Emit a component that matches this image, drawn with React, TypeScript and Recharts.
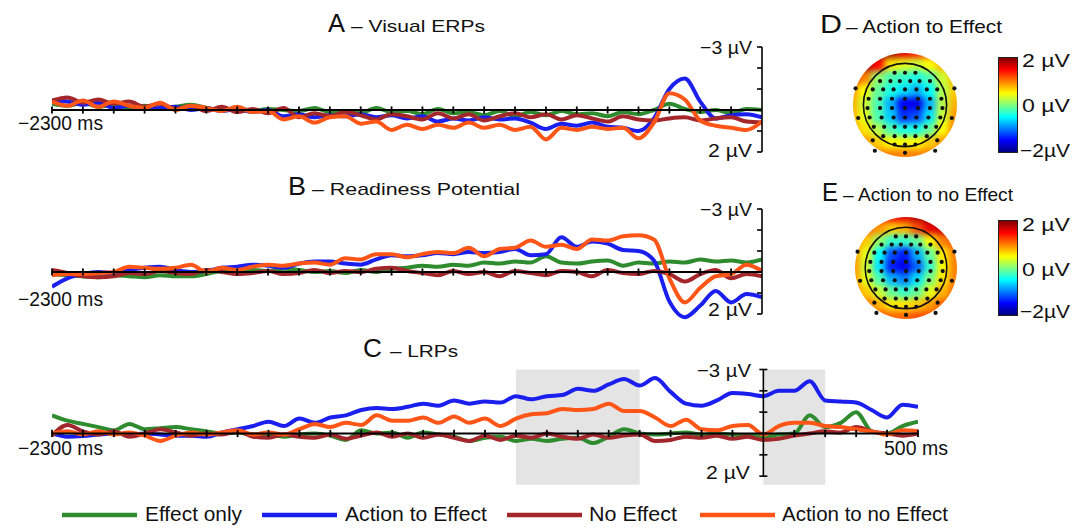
import React from 'react';
import {
  LineChart,
  Line,
  XAxis,
  YAxis,
  ReferenceLine,
  ReferenceArea,
  ReferenceDot,
  ScatterChart,
  Scatter,
} from 'recharts';

// time points (ms), 50 ms steps
const timesAB = [
  -2300, -2250, -2200, -2150, -2100, -2050, -2000, -1950, -1900, -1850, -1800, -1750, -1700, -1650, -1600, -1550,
  -1500, -1450, -1400, -1350, -1300, -1250, -1200, -1150, -1100, -1050, -1000, -950, -900, -850, -800, -750, -700,
  -650, -600, -550, -500, -450, -400, -350, -300, -250, -200, -150, -100, -50, 0,
];
const timesC = [
  -2300, -2250, -2200, -2150, -2100, -2050, -2000, -1950, -1900, -1850, -1800, -1750, -1700, -1650, -1600, -1550,
  -1500, -1450, -1400, -1350, -1300, -1250, -1200, -1150, -1100, -1050, -1000, -950, -900, -850, -800, -750, -700,
  -650, -600, -550, -500, -450, -400, -350, -300, -250, -200, -150, -100, -50, 0, 50, 100, 150, 200, 250, 300, 350,
  400, 450, 500,
];

const ticksAB = [
  -2300, -2200, -2100, -2000, -1900, -1800, -1700, -1600, -1500, -1400, -1300, -1200, -1100, -1000, -900, -800, -700,
  -600, -500, -400, -300, -200, -100,
];
const ticksC = [
  -2300, -2200, -2100, -2000, -1900, -1800, -1700, -1600, -1500, -1400, -1300, -1200, -1100, -1000, -900, -800, -700,
  -600, -500, -400, -300, -200, -100, 100, 200, 300, 400, 500,
];
const voltTicks = [-3, -2, -1, 0, 1, 2];
const shadedC: [number, number][] = [[-800, -400], [0, 200]];

// A - Visual ERPs (µV, negative up)
const effectOnlyA = [
  -0.3, -0.2, -0.35, -0.15, -0.25, -0.1, -0.2, -0.05, -0.15, -0.25, -0.1, 0.0, -0.1, 0.05, -0.05, 0.0, 0.05, -0.1,
  0.1, 0.05, 0.15, -0.1, 0.1, 0.05, 0.2, -0.05, 0.15, 0.1, 0.25, 0.05, 0.3, 0.1, 0.25, 0.05, 0.2, 0.15, 0.3, 0.1, 0.2,
  0.0, -0.3, -0.05, 0.1, 0.0, 0.15, -0.05, 0.0,
];
const actionEffectA = [
  -0.45, -0.4, -0.25, -0.35, -0.1, -0.2, -0.05, -0.1, -0.15, 0.0, -0.1, 0.05, -0.05, 0.1, 0.0, 0.3, 0.2, 0.35, 0.25,
  0.3, 0.2, 0.35, 0.25, 0.4, 0.3, 0.55, 0.4, 0.5, 0.35, 0.45, 0.4, 0.6, 0.9, 0.65, 0.75, 0.6, 0.8, 0.85, 1.0, 0.4,
  -1.0, -1.5, -0.4, 0.4, 0.25, 0.2, 0.35,
];
const noEffectA = [
  -0.45, -0.6, -0.35, -0.5, -0.3, -0.4, -0.15, -0.3, -0.05, -0.2, 0.05, -0.15, 0.1, -0.05, 0.15, -0.1, 0.35, 0.15, 0.3,
  0.1, 0.25, 0.45, 0.2, 0.3, 0.45, 0.15, 0.4, 0.2, 0.5, 0.3, 0.15, 0.35, 0.2, 0.45, 0.25, 0.4, 0.55, 0.3, 0.45, 0.5,
  0.4, 0.35, 0.5, 0.4, 0.35, 0.55, 0.6,
];
const actionNoEffectA = [
  -0.4, -0.2, -0.45, -0.15, -0.4, -0.2, -0.1, -0.35, 0.0, -0.2, -0.1, 0.05, -0.15, 0.1, 0.05, 0.45, 0.3, 0.6, 0.35,
  0.3, 0.65, 0.55, 0.95, 0.7, 0.9, 0.7, 0.85, 0.6, 0.85, 0.7, 0.95, 0.8, 1.4, 0.85, 0.95, 0.8, 0.9, 0.85, 1.35, 0.6,
  -0.8, -0.5, 0.5, 0.75, 0.85, 0.95, 0.55,
];

// B - Readiness Potential
const effectOnlyB = [
  0.1, 0.15, 0.2, 0.25, 0.15, 0.2, 0.25, 0.15, 0.2, 0.2, 0.1, -0.05, 0.05, -0.1, -0.05, -0.15, -0.1, 0.0, -0.05, 0.05,
  -0.1, 0.0, -0.15, -0.2, -0.3, -0.25, -0.35, -0.3, -0.45, -0.4, -0.5, -0.45, -0.75, -0.45, -0.4, -0.5, -0.55, -0.3,
  -0.45, -0.4, -0.5, -0.45, -0.6, -0.5, -0.55, -0.45, -0.6,
];
const actionEffectB = [
  0.7, 0.3, 0.1, 0.0, 0.05, -0.1, -0.2, -0.25, -0.1, 0.0, -0.05, -0.2, -0.25, -0.35, -0.3, -0.2, -0.4, -0.5, -0.5,
  -0.4, -0.35, -0.6, -0.8, -0.75, -0.8, -0.9, -0.85, -0.95, -0.9, -0.95, -1.1, -0.8, -0.85, -1.65, -1.2, -1.45, -1.35,
  -1.05, -1.0, -0.55, 1.4, 2.15, 1.6, 0.9, 1.45, 1.05, 1.2,
];
const noEffectB = [
  -0.1, 0.05, 0.2, 0.25, 0.2, 0.05, 0.1, -0.05, 0.05, 0.1, -0.1, 0.0, 0.1, 0.05, -0.05, 0.1, 0.05, -0.1, 0.05, -0.05,
  0.0, -0.15, -0.2, -0.05, 0.05, 0.15, -0.05, 0.1, 0.0, 0.2, -0.05, 0.05, 0.15, -0.05, 0.0, 0.2, -0.1, 0.05, 0.1,
  -0.05, 0.1, 0.45, 0.1, -0.1, 0.3, 0.1, 0.2,
];
const actionNoEffectB = [
  0.15, 0.1, 0.1, 0.05, 0.0, -0.25, -0.2, -0.15, -0.2, -0.35, 0.0, -0.2, -0.1, -0.25, -0.35, -0.3, -0.4, -0.45, -0.35,
  -0.65, -0.6, -0.85, -0.85, -0.7, -0.85, -0.95, -0.9, -1.15, -0.75, -1.1, -1.15, -1.5, -1.2, -1.3, -1.1, -1.55, -1.5,
  -1.7, -1.75, -1.55, 0.3, 1.45, 0.75, 0.2, 0.1, -0.35, -0.05,
];

// C - LRPs
const effectOnlyC = [
  -0.85, -0.6, -0.45, -0.3, -0.15, -0.45, -0.2, -0.25, -0.3, -0.2, -0.1, 0.0, -0.05, 0.05, 0.05, 0.15, 0.05, 0.0, 0.1,
  0.3, -0.15, 0.0, -0.05, 0.2, -0.05, 0.05, 0.15, 0.35, 0.2, 0.15, 0.35, 0.25, 0.35, 0.25, 0.2, 0.45, 0.15, -0.2, 0.0,
  0.05, 0.0, -0.05, 0.05, 0.0, 0.05, 0.1, 0.15, 0.05, 0.0, -0.85, -0.3, -0.5, -1.0, -0.1, 0.0, -0.35, -0.55,
];
const actionEffectC = [
  0.0, 0.15, 0.12, 0.05, 0.0, 0.05, 0.0, 0.05, 0.1, 0.1, 0.15, -0.05, -0.2, -0.35, -0.55, -0.35, -0.7, -0.5, -0.75,
  -0.85, -1.1, -1.2, -1.15, -1.25, -1.4, -1.3, -1.55, -1.4, -1.5, -1.45, -1.75, -1.6, -1.75, -1.8, -2.1, -2.0, -2.3,
  -2.55, -2.25, -2.6, -1.95, -1.4, -1.3, -1.55, -1.9, -1.85, -1.75, -2.0, -2.0, -2.45, -1.55, -1.5, -1.45, -1.1, -0.75,
  -1.35, -1.25,
];
const noEffectC = [
  0.1, -0.4, -0.1, 0.05, -0.1, 0.15, 0.0, -0.2, -0.05, 0.1, 0.0, 0.05, -0.1, 0.15, 0.2, 0.05, 0.15, 0.2, 0.05, 0.25,
  0.1, -0.05, 0.15, 0.0, 0.2, 0.05, 0.2, 0.35, 0.1, 0.3, 0.1, 0.2, 0.0, 0.15, 0.25, 0.05, 0.2, 0.1, 0.05, 0.35, 0.3,
  0.15, 0.2, 0.1, 0.25, 0.15, 0.3, 0.25, 0.1, 0.0, -0.1, -0.05, -0.3, -0.1, 0.0, 0.1, 0.0,
];
const actionNoEffectC = [
  0.0, -0.1, 0.05, -0.1, 0.05, -0.05, 0.1, 0.35, 0.1, -0.05, 0.05, -0.05, -0.15, 0.05, -0.05, 0.05, -0.2, -0.45, -0.3,
  -0.5, -0.4, -0.85, -0.6, -0.6, -0.75, -0.5, -0.8, -0.5, -0.7, -0.35, -0.7, -0.9, -0.95, -1.15, -1.1, -1.15, -1.4,
  -1.05, -1.05, -0.75, -0.35, -0.65, -0.2, -0.15, -0.35, -0.4, 0.05, -0.35, -0.5, -0.5, -0.35, -0.3, -0.2, -0.1, 0.05,
  -0.15, -0.1,
];

// D / E scalp maps, µV on a 9x9 grid (front row first)
const topoRows = [1, 0.75, 0.5, 0.25, 0, -0.25, -0.5, -0.75, -1];
const topoCols = [-1, -0.75, -0.5, -0.25, 0, 0.25, 0.5, 0.75, 1];
const topoD = [
  [2, 2, 2, 1.9, 1.6, 1.4, 1.2, 1.0, 0.9],
  [2, 1.9, 1.5, 0.6, 0.4, 0.3, 0.5, 0.8, 0.9],
  [1.5, 1.0, 0.1, -0.2, -0.3, -0.4, -0.2, 0.3, 0.8],
  [0.9, 0.5, -0.1, -0.4, -0.6, -0.8, -0.5, 0.2, 0.7],
  [0.8, 0.3, -0.2, -0.8, -1.5, -1.6, -0.8, 0.2, 0.8],
  [0.8, 0.4, -0.2, -0.7, -1.3, -1.2, -0.6, 0.3, 0.9],
  [0.9, 0.6, 0.2, -0.2, -0.4, -0.4, -0.1, 0.5, 1.0],
  [1.0, 0.9, 0.7, 0.5, 0.5, 0.5, 0.7, 0.9, 1.1],
  [1.1, 1.1, 1.0, 1.0, 1.0, 1.0, 1.0, 1.1, 1.2],
];
const topoE = [
  [1.3, 1.3, 1.4, 1.5, 1.6, 1.8, 2.0, 2.0, 1.9],
  [1.2, 1.1, 0.9, 0.7, 0.8, 1.2, 1.6, 1.7, 1.6],
  [1.0, 0.7, 0.1, -0.3, -0.3, -0.1, 0.5, 1.0, 1.2],
  [0.9, 0.4, -0.5, -1.2, -1.4, -0.8, -0.1, 0.6, 1.0],
  [0.9, 0.3, -0.6, -1.4, -1.6, -1.1, -0.3, 0.5, 1.0],
  [0.9, 0.4, -0.2, -0.8, -1.0, -0.6, 0.0, 0.6, 1.0],
  [1.0, 0.7, 0.3, -0.1, -0.3, -0.1, 0.4, 0.8, 1.1],
  [1.1, 1.0, 0.8, 0.6, 0.6, 0.7, 0.9, 1.1, 1.2],
  [1.2, 1.2, 1.2, 1.1, 1.1, 1.2, 1.2, 1.3, 1.3],
];
const electrodes: [number, number][] = [
  [-0.2, 0.62], [0, 0.62], [0.2, 0.62],
  [-0.48, 0.46], [-0.28, 0.46], [-0.1, 0.46], [0.1, 0.46], [0.28, 0.46], [0.48, 0.46],
  [-0.62, 0.3], [-0.42, 0.3], [-0.22, 0.3], [0, 0.3], [0.22, 0.3], [0.42, 0.3], [0.62, 0.3],
  [-0.7, 0.12], [-0.48, 0.12], [-0.25, 0.12], [0, 0.12], [0.25, 0.12], [0.48, 0.12], [0.7, 0.12],
  [-0.72, -0.06], [-0.48, -0.06], [-0.25, -0.06], [0, -0.06], [0.25, -0.06], [0.48, -0.06], [0.72, -0.06],
  [-0.68, -0.24], [-0.45, -0.24], [-0.22, -0.24], [0, -0.24], [0.22, -0.24], [0.45, -0.24], [0.68, -0.24],
  [-0.6, -0.42], [-0.4, -0.42], [-0.2, -0.42], [0, -0.42], [0.2, -0.42], [0.4, -0.42], [0.6, -0.42],
  [-0.42, -0.6], [-0.2, -0.6], [0, -0.6], [0.2, -0.6], [0.42, -0.6],
  [-0.2, -0.76], [0, -0.76], [0.2, -0.76],
  [-0.95, 0.32], [0.95, 0.32], [-0.9, -0.25], [0.9, -0.25], [-0.62, -0.68], [0.62, -0.68],
  [-0.58, -0.88], [0.58, -0.88], [0, -0.92],
];

const SERIES = [
  { key: 'effectOnly', name: 'Effect only', color: '#2e8b2e' },
  { key: 'actionEffect', name: 'Action to Effect', color: '#1a1fee' },
  { key: 'noEffect', name: 'No Effect', color: '#a3262b' },
  { key: 'actionNoEffect', name: 'Action to no Effect', color: '#ff5516' },
];

const FONT = '"Liberation Sans", Arial, Helvetica, sans-serif';

const buildRows = (times: number[], eo: number[], ae: number[], ne: number[], ane: number[]) =>
  times.map((t, i) => ({ t, effectOnly: eo[i], actionEffect: ae[i], noEffect: ne[i], actionNoEffect: ane[i] }));

const rowsA = buildRows(timesAB, effectOnlyA, actionEffectA, noEffectA, actionNoEffectA);
const rowsB = buildRows(timesAB, effectOnlyB, actionEffectB, noEffectB, actionNoEffectB);
const rowsC = buildRows(timesC, effectOnlyC, actionEffectC, noEffectC, actionNoEffectC);

function jet(v: number) {
  const p = Math.max(0, Math.min(1, (v + 2) / 4));
  const c = (x: number) => Math.round(255 * Math.max(0, Math.min(1, 1.5 - Math.abs(x))));
  return `rgb(${c(4 * p - 3)},${c(4 * p - 2)},${c(4 * p - 1)})`;
}

interface ErpProps {
  data: any[];
  top: number;
  width: number;
  height: number;
  margin: { top: number; right: number; bottom: number; left: number };
  xMax: number;
  xTicks: number[];
  crossing?: boolean;
  shaded?: [number, number][];
}

const ErpPanel: React.FC<ErpProps> = ({ data, top, width, height, margin, xMax, xTicks, crossing, shaded = [] }) => (
  <div style={{ position: 'absolute', left: 0, top }}>
    <LineChart width={width} height={height} data={data} margin={margin}>
      <XAxis type="number" dataKey="t" domain={[-2300, xMax]} hide allowDataOverflow />
      <YAxis type="number" domain={[-3.5, 2.5]} reversed hide allowDataOverflow />
      {shaded.map(([a, b]) => (
        <ReferenceArea key={a} x1={a} x2={b} y1={-3} y2={2.4} fill="#e4e4e4" fillOpacity={1} stroke="none" />
      ))}
      {SERIES.map((s) => (
        <Line
          key={s.key}
          dataKey={s.key}
          name={s.name}
          type="monotone"
          stroke={s.color}
          strokeWidth={4}
          strokeLinejoin="round"
          dot={false}
          isAnimationActive={false}
        />
      ))}
      <ReferenceLine y={0} stroke="#000" strokeWidth={2.2} />
      {xTicks.map((t) => (
        <ReferenceLine key={'x' + t} segment={[{ x: t, y: -0.17 }, { x: t, y: 0.17 }]} stroke="#000" strokeWidth={1.8} />
      ))}
      <ReferenceLine segment={[{ x: 0, y: -3 }, { x: 0, y: 2 }]} stroke="#000" strokeWidth={1.6} />
      {voltTicks.map((v) => (
        <ReferenceLine
          key={'y' + v}
          segment={crossing ? [{ x: -13, y: v }, { x: 13, y: v }] : [{ x: -16, y: v }, { x: 0, y: v }]}
          stroke="#000"
          strokeWidth={1.6}
        />
      ))}
    </LineChart>
  </div>
);

const TopoPlot: React.FC<{ cx: number; cy: number; r: number; grid: number[][] }> = ({ cx, cy, r, grid }) => {
  const pad = 12;
  const ext = 1 + pad / r;
  const cells = grid.flatMap((row, i) => row.map((v, j) => ({ x: topoCols[j], y: topoRows[i], v })));
  const dots = electrodes.map(([x, y]) => ({ x, y }));
  const cell = r * 0.25 + 3;
  const zero = { top: 0, right: 0, bottom: 0, left: 0 };
  return (
    <>
      <div
        style={{
          position: 'absolute',
          left: cx - r,
          top: cy - r,
          width: 2 * r,
          height: 2 * r,
          borderRadius: '50%',
          overflow: 'hidden',
        }}
      >
        <div style={{ position: 'absolute', left: -pad, top: -pad, filter: 'blur(3px)' }}>
          <ScatterChart width={2 * (r + pad)} height={2 * (r + pad)} margin={zero}>
            <XAxis type="number" dataKey="x" domain={[-ext, ext]} hide />
            <YAxis type="number" dataKey="y" domain={[-ext, ext]} hide />
            <Scatter
              data={cells}
              isAnimationActive={false}
              shape={(p: any) => (
                <rect x={p.cx - cell / 2} y={p.cy - cell / 2} width={cell} height={cell} fill={jet(p.payload.v)} />
              )}
            />
          </ScatterChart>
        </div>
      </div>
      <div style={{ position: 'absolute', left: cx - r, top: cy - r }}>
        <ScatterChart width={2 * r} height={2 * r} margin={zero}>
          <XAxis type="number" dataKey="x" domain={[-1, 1]} hide />
          <YAxis type="number" dataKey="y" domain={[-1, 1]} hide />
          <ReferenceDot x={0} y={0} r={r * 0.8} fill="none" stroke="#111" strokeWidth={1.6} />
          <Scatter
            data={dots}
            isAnimationActive={false}
            shape={(p: any) => <circle cx={p.cx} cy={p.cy} r={2.1} fill="#111" />}
          />
        </ScatterChart>
      </div>
    </>
  );
};

const ColorBar: React.FC<{ left: number; top: number; height: number }> = ({ left, top, height }) => (
  <div
    style={{
      position: 'absolute',
      left,
      top,
      width: 18,
      height,
      border: '1px solid #222',
      background:
        'linear-gradient(to top, rgb(0,0,128), rgb(0,0,255) 12.5%, rgb(0,255,255) 37.5%, rgb(255,255,0) 62.5%, rgb(255,0,0) 87.5%, rgb(128,0,0))',
    }}
  />
);

const T: React.FC<{ x: number; y: number; size: number; len: number; children: React.ReactNode }> = ({
  x,
  y,
  size,
  len,
  children,
}) => (
  <text x={x} y={y} fontSize={size} fontFamily={FONT} fill="#111" textLength={len} lengthAdjust="spacingAndGlyphs">
    {children}
  </text>
);

const legendItems = [
  { ...SERIES[0], lx: 62, tx: 145, len: 97 },
  { ...SERIES[1], lx: 262, tx: 345, len: 142 },
  { ...SERIES[2], lx: 507, tx: 589, len: 88 },
  { ...SERIES[3], lx: 700, tx: 782, len: 166 },
];

export default function App() {
  return (
    <div
      style={{
        position: 'absolute',
        left: 0,
        top: 0,
        width: 1079,
        height: 529,
        background: '#fff',
        overflow: 'hidden',
      }}
    >
      <ErpPanel
        data={rowsA}
        top={0}
        width={800}
        height={170}
        margin={{ top: 36.5, right: 38, bottom: 7.5, left: 52 }}
        xMax={0}
        xTicks={ticksAB}
      />
      <ErpPanel
        data={rowsB}
        top={170}
        width={800}
        height={170}
        margin={{ top: 28.5, right: 38, bottom: 15.5, left: 52 }}
        xMax={0}
        xTicks={ticksAB}
      />
      <ErpPanel
        data={rowsC}
        top={340}
        width={960}
        height={160}
        margin={{ top: 18.83, right: 42, bottom: 13.17, left: 52 }}
        xMax={500}
        xTicks={ticksC}
        crossing
        shaded={shadedC}
      />

      <TopoPlot cx={905} cy={105} r={52} grid={topoD} />
      <TopoPlot cx={906} cy={268} r={51} grid={topoE} />
      <ColorBar left={998} top={57} height={94} />
      <ColorBar left={998} top={220} height={94} />

      <svg width={1079} height={529} style={{ position: 'absolute', left: 0, top: 0, pointerEvents: 'none' }}>
        <T x={328} y={32} size={26} len={17}>A</T>
        <T x={351} y={32} size={17} len={134}>– Visual ERPs</T>
        <T x={288} y={195} size={25} len={18}>B</T>
        <T x={312} y={195} size={17} len={208}>– Readiness Potential</T>
        <T x={363} y={357} size={25} len={19}>C</T>
        <T x={390} y={357} size={17} len={68}>– LRPs</T>

        <T x={18} y={130} size={20} len={85}>−2300 ms</T>
        <T x={18} y={306} size={20} len={85}>−2300 ms</T>
        <T x={18} y={455} size={20} len={85}>−2300 ms</T>
        <T x={884} y={455} size={20} len={64}>500 ms</T>

        <T x={700} y={54} size={19} len={52}>−3 µV</T>
        <T x={708} y={157} size={19} len={44}>2 µV</T>
        <T x={700} y={216} size={19} len={52}>−3 µV</T>
        <T x={708} y={316} size={19} len={44}>2 µV</T>
        <T x={697} y={377} size={19} len={54}>−3 µV</T>
        <T x={706} y={479} size={19} len={44}>2 µV</T>

        <T x={820} y={33} size={25} len={22}>D</T>
        <T x={846} y={33} size={19} len={156}>– Action to Effect</T>
        <T x={822} y={201} size={25} len={16}>E</T>
        <T x={843} y={201} size={19} len={170}>– Action to no Effect</T>

        <T x={1022} y={67} size={19} len={48}>2 µV</T>
        <T x={1022} y={112} size={19} len={48}>0 µV</T>
        <T x={1020} y={157} size={19} len={50}>−2µV</T>
        <T x={1022} y={231} size={19} len={48}>2 µV</T>
        <T x={1022} y={276} size={19} len={48}>0 µV</T>
        <T x={1020} y={318} size={19} len={50}>−2µV</T>

        {legendItems.map((it) => (
          <g key={it.key}>
            <line x1={it.lx} x2={it.lx + 75} y1={515} y2={515} stroke={it.color} strokeWidth={4.5} />
            <T x={it.tx} y={521} size={20} len={it.len}>
              {it.name}
            </T>
          </g>
        ))}
      </svg>
    </div>
  );
}
